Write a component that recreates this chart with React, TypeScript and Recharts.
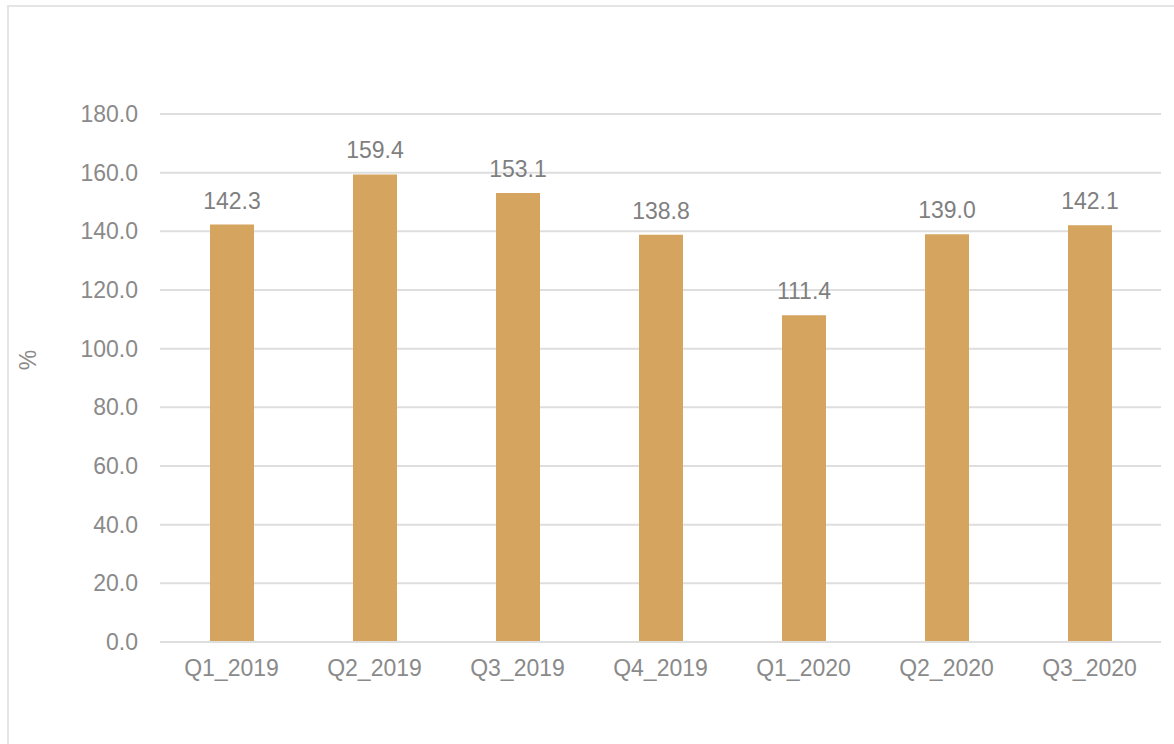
import { Bar, BarChart, CartesianGrid, LabelList, XAxis, YAxis } from "recharts";

const QUARTERS = ["Q1_2019", "Q2_2019", "Q3_2019", "Q4_2019", "Q1_2020", "Q2_2020", "Q3_2020"];
const VALUES = [142.3, 159.4, 153.1, 138.8, 111.4, 139.0, 142.1];
const Y_TICKS = [0, 20, 40, 60, 80, 100, 120, 140, 160, 180];

const BAR_COLOR = "#d5a45f";
const TEXT_GRAY = "#8a8a8a";
const GRID = "#dedede";
const FONT = "'Liberation Sans', Arial, sans-serif";

const data = QUARTERS.map((q, i) => ({ quarter: q, value: VALUES[i] }));

export default function App() {
  return (
    <div
      style={{
        position: "absolute",
        left: 0,
        top: 0,
        width: 1174,
        height: 744,
        overflow: "hidden",
        background: "#fff",
        fontFamily: FONT,
      }}
    >
      {/* outer frame, runs off the right and bottom edges */}
      <div
        style={{
          position: "absolute",
          left: 7,
          top: 5,
          width: 1200,
          height: 800,
          border: "2px solid #e4e4e4",
          boxSizing: "border-box",
        }}
      />
      <div style={{ position: "absolute", left: 0, top: 0 }}>
        <BarChart
          width={1174}
          height={744}
          data={data}
          margin={{ top: 114, right: 13, bottom: 0, left: 0 }}
        >
          <CartesianGrid vertical={false} stroke={GRID} strokeWidth={2} />
          <XAxis
            dataKey="quarter"
            height={102}
            tickLine={false}
            axisLine={{ stroke: GRID, strokeWidth: 2 }}
            tickSize={0}
            tickMargin={18}
            tick={{ fontSize: 23, fill: TEXT_GRAY, fontFamily: FONT }}
          />
          <YAxis
            width={160}
            domain={[0, 180]}
            ticks={Y_TICKS}
            interval={0}
            tickFormatter={(v: number) => v.toFixed(1)}
            axisLine={false}
            tickLine={false}
            tickSize={0}
            tickMargin={22}
            tick={{ fontSize: 23, fill: TEXT_GRAY, fontFamily: FONT }}
            label={{
              content: () => (
                <text
                  x={36}
                  y={360}
                  transform="rotate(-90 36 360)"
                  textAnchor="middle"
                  fontSize={23}
                  fill={TEXT_GRAY}
                  fontFamily={FONT}
                >
                  %
                </text>
              ),
            }}
          />
          <Bar dataKey="value" fill={BAR_COLOR} barSize={44} isAnimationActive={false}>
            <LabelList
              dataKey="value"
              position="top"
              offset={16}
              formatter={(v: number) => v.toFixed(1)}
              style={{ fontSize: 23, fill: "#7f7f7f", fontFamily: FONT }}
            />
          </Bar>
        </BarChart>
      </div>
    </div>
  );
}
